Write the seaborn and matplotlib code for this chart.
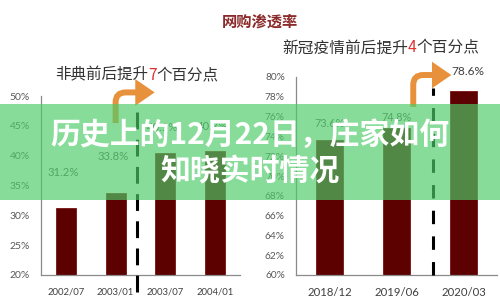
import matplotlib
matplotlib.use("Agg")
import matplotlib.pyplot as plt
import seaborn as sns
import pandas as pd
from matplotlib.patches import Rectangle, FancyArrowPatch
from matplotlib.ticker import FixedLocator

sns.set_style("white")
plt.rcParams['font.family'] = ['Lato', 'Noto Sans CJK SC', 'DejaVu Sans']

# ---- data ----
sars_periods = ["2002/07", "2003/01", "2003/07", "2004/01"]
sars_rates = [31.2, 33.8, 40.5, 40.7]
covid_periods = ["2018/12", "2019/06", "2020/03"]
covid_rates = [73.6, 74.8, 78.6]
sars_yticks = [20, 25, 30, 35, 40, 45, 50]
covid_yticks = [60, 62, 64, 66, 68, 70, 72, 74, 76, 78, 80]

main_title = "网购渗透率"
left_sub = ("非典前后提升", "7", "个百分点")
right_sub = ("新冠疫情前后提升", "4", "个百分点")
overlay_lines = ["历史上的12月22日，庄家如何", "知晓实时情况"]

W, H = 500, 305
fig = plt.figure(figsize=(W / 100, H / 100), dpi=100)
fig.patch.set_facecolor("white")

BAR = "#5c0000"
GRAY = "#595959"
ORANGE = "#e8913c"
CJK = ['Noto Sans CJK SC', 'DejaVu Sans']


def px(x0, y0, x1, y1):
    return [x0 / W, 1 - y1 / H, (x1 - x0) / W, (y1 - y0) / H]


def style_axes(ax, cats, ticks, tick_fs, lab_fs):
    ax.set_yticks(ticks)
    ax.set_yticklabels([f"{t}%" for t in ticks], fontsize=tick_fs, color=GRAY)
    ax.set_xlim(-0.5, len(cats) - 0.5)
    ax.set_xticks(range(len(cats)))
    ax.set_xticklabels(cats, fontsize=lab_fs, color="#404040")
    ax.xaxis.set_minor_locator(FixedLocator([i - 0.5 for i in range(len(cats) + 1)]))
    ax.tick_params(axis="x", which="major", length=0, pad=9)
    ax.tick_params(axis="x", which="minor", length=4, color="#909090", width=0.8)
    ax.tick_params(axis="y", length=0, pad=8)
    ax.set_xlabel("")
    ax.set_ylabel("")
    for s in ["top", "right"]:
        ax.spines[s].set_visible(False)
    for s in ["left", "bottom"]:
        ax.spines[s].set_color("#8a8a8a")
        ax.spines[s].set_linewidth(0.9)
    ax.set_facecolor("none")


def add_arrow(ax, start, end):
    arr = FancyArrowPatch(start, end,
                          connectionstyle="angle,angleA=90,angleB=0,rad=10",
                          arrowstyle="-|>,head_length=0.8,head_width=0.55",
                          mutation_scale=10, color=ORANGE, lw=4.3,
                          joinstyle="miter", capstyle="butt",
                          clip_on=False, zorder=6)
    ax.add_patch(arr)


# ---- left chart ----
axL = fig.add_axes(px(41, 96, 240, 275))
dfL = pd.DataFrame({"period": sars_periods, "rate": sars_rates})
sns.barplot(data=dfL, x="period", y="rate", ax=axL, color=BAR, width=0.4,
            edgecolor="#7a1010", linewidth=0.6, saturation=1)
axL.set_ylim(20, 50)
style_axes(axL, sars_periods, sars_yticks, 7.5, 6.8)
offsL = [26, 26, 18, 18]
for i, v in enumerate(sars_rates):
    axL.annotate(f"{v}%", (i, v), xytext=(-2, offsL[i]), textcoords="offset points",
                 ha="center", va="center", fontsize=8.2, color=GRAY)
axL.axvline(1.42, ymin=-0.095, ymax=0.975, color="black", lw=2.2,
            dashes=(5.5, 3.4), clip_on=False, zorder=5)
add_arrow(axL, (1.0, 45.0), (1.84, 50.6))

# ---- right chart ----
axR = fig.add_axes(px(296, 77, 497, 275))
dfR = pd.DataFrame({"period": covid_periods, "rate": covid_rates})
sns.barplot(data=dfR, x="period", y="rate", ax=axR, color=BAR, width=0.4,
            edgecolor="#7a1010", linewidth=0.6, saturation=1)
axR.set_ylim(60, 80)
style_axes(axR, covid_periods, covid_yticks, 7.3, 8.2)
offsR = [12, 8, 14]
for i, v in enumerate(covid_rates):
    axR.annotate(f"{v}%", (i, v), xytext=(3 if i == 2 else 0, offsR[i]),
                 textcoords="offset points", ha="center", va="center",
                 fontsize=8.6 if i == 2 else 7.8, color="#404040" if i == 2 else GRAY)
axR.axvline(1.54, ymin=0, ymax=0.945, color="black", lw=2.2,
            dashes=(4.4, 4.0), clip_on=False, zorder=5)
add_arrow(axR, (1.25, 76.7), (1.86, 80.2))

# ---- titles ----
fig.text(260 / W, 1 - 22 / H, main_title, ha="center", va="center",
         fontsize=11, color="#8b2a2a", family=CJK, fontweight="bold")

fig.canvas.draw()
renderer = fig.canvas.get_renderer()


def multi_text(x0, yc, parts, colors, fs):
    x = x0
    for p, c in zip(parts, colors):
        t = fig.text(x / W, 1 - yc / H, p, ha="left", va="center", fontsize=fs,
                     color=c, family=CJK)
        bb = t.get_window_extent(renderer)
        x = bb.x1


multi_text(55, 75, left_sub, ["#333333", "#e03030", "#333333"], 11.2)
multi_text(282, 48, right_sub, ["#333333", "#e03030", "#333333"], 11.3)

# ---- overlay band ----
fig.add_artist(Rectangle((0, 1 - 200 / H), 1, 96 / H, transform=fig.transFigure,
                         facecolor="#4ecc68", alpha=0.67, edgecolor="none", zorder=10))
fig.text(0.5, 1 - 135 / H, overlay_lines[0], ha="center", va="center", fontsize=21.5,
         color="white", fontweight="bold", family=CJK, zorder=11)
fig.text(0.5, 1 - 172 / H, overlay_lines[1], ha="center", va="center", fontsize=21.5,
         color="white", fontweight="bold", family=CJK, zorder=11)

fig.savefig("out.png", dpi=100, facecolor="white")
